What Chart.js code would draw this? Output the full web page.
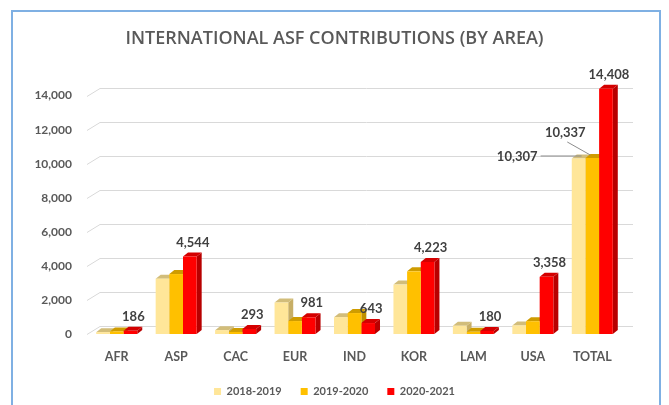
<!DOCTYPE html>
<html>
<head>
<meta charset="utf-8">
<script src="https://cdn.jsdelivr.net/npm/chart.js@4.4.1/dist/chart.umd.min.js"></script>
<style>
  html, body { margin: 0; padding: 0; background: #fff; overflow: hidden; }
  #wrap { position: relative; width: 669px; height: 405px; }
  #frame { position: absolute; left: 11px; top: 10px; width: 650px; height: 420px; border: 2px solid #7fb0e3; box-sizing: border-box; pointer-events: none; }
  canvas { position: absolute; left: 0; top: 0; }
</style>
</head>
<body>
<div id="wrap">
  <canvas id="chart" width="669" height="405"></canvas>
  <div id="frame"></div>
</div>
<script>
const categories = ["AFR", "ASP", "CAC", "EUR", "IND", "KOR", "LAM", "USA", "TOTAL"];
const fy2018 = [110, 3250, 227, 1850, 990, 2900, 480, 500, 10307];
const fy2019 = [150, 3520, 120, 760, 1230, 3680, 127, 750, 10337];
const fy2020 = [186, 4544, 293, 981, 643, 4223, 180, 3358, 14408];
const seriesNames = ["2018-2019", "2019-2020", "2020-2021"];
const yMax = 14000;
const yStep = 2000;

Chart.defaults.font.family = "Lato, 'Liberation Sans', sans-serif";

// front / top / side colours for the fake 3D bars
const faces = [
    { front: "#ffe699", top: "#d2bd7a", side: "#c7ae66" },
    { front: "#ffc000", top: "#cf9c00", side: "#bf8f00" },
    { front: "#ff0000", top: "#d40000", side: "#b80000" },
];
const DX = 5, DY = 4;       // bar depth
const WX = 13, WY = 8;      // back wall offset

const fmt = (v) => v.toLocaleString("en-US");

const wallPlugin = {
    id: "wall",
    beforeDatasetsDraw(chart) {
        const { ctx, chartArea, scales } = chart;
        ctx.save();
        ctx.strokeStyle = "#d9d9d9";
        ctx.lineWidth = 1;
        scales.y.ticks.forEach((t) => {
            const y = Math.round(scales.y.getPixelForValue(t.value)) + 0.5;
            ctx.beginPath();
            ctx.moveTo(chartArea.left, y);
            ctx.lineTo(chartArea.left + WX, y - WY);
            ctx.lineTo(chartArea.right + 11, y - WY);
            ctx.stroke();
        });
        // depth faces, fronts are drawn by Chart.js afterwards
        chart.data.datasets.forEach((ds, i) => {
            const meta = chart.getDatasetMeta(i);
            meta.data.forEach((bar) => {
                const x0 = bar.x - bar.width / 2, x1 = bar.x + bar.width / 2;
                ctx.fillStyle = faces[i].side;
                ctx.beginPath();
                ctx.moveTo(x1, bar.y);
                ctx.lineTo(x1 + DX, bar.y - DY);
                ctx.lineTo(x1 + DX, bar.base - DY);
                ctx.lineTo(x1, bar.base);
                ctx.closePath();
                ctx.fill();
                ctx.fillStyle = faces[i].top;
                ctx.beginPath();
                ctx.moveTo(x0, bar.y);
                ctx.lineTo(x0 + DX, bar.y - DY);
                ctx.lineTo(x1 + DX, bar.y - DY);
                ctx.lineTo(x1, bar.y);
                ctx.closePath();
                ctx.fill();
            });
        });
        ctx.restore();
    },
};

const labelPlugin = {
    id: "valueLabels",
    afterDatasetsDraw(chart) {
        const { ctx } = chart;
        ctx.save();
        ctx.font = "bold 13px Lato, 'Liberation Sans', sans-serif";
        ctx.fillStyle = "#404040";
        ctx.textAlign = "center";
        ctx.textBaseline = "middle";
        const red = chart.getDatasetMeta(2).data;
        red.forEach((bar, i) => {
            ctx.fillText(fmt(fy2020[i]), bar.x + 3, bar.y - 14);
        });
        // leader-line labels on TOTAL
        const last = categories.length - 1;
        const a = chart.getDatasetMeta(0).data[last];
        const b = chart.getDatasetMeta(1).data[last];
        ctx.strokeStyle = "#8c8c8c";
        ctx.lineWidth = 1;
        ctx.textAlign = "right";
        ctx.fillText(fmt(fy2018[last]), a.x - 41, a.y - 2);
        ctx.beginPath();
        ctx.moveTo(a.x - 38, a.y - 2.5);
        ctx.lineTo(a.x + 3, a.y - 2.5);
        ctx.stroke();
        ctx.textAlign = "center";
        ctx.fillText(fmt(fy2019[last]), b.x - 27, b.y - 25);
        ctx.beginPath();
        ctx.moveTo(b.x - 25, b.y - 16);
        ctx.lineTo(b.x - 2, b.y - 3);
        ctx.stroke();
        ctx.restore();
    },
};

new Chart(document.getElementById("chart"), {
    type: "bar",
    data: {
        labels: categories,
        datasets: [fy2018, fy2019, fy2020].map((values, i) => ({
            label: seriesNames[i],
            data: values,
            backgroundColor: faces[i].front,
            borderWidth: 0,
            categoryPercentage: 0.69,
            barPercentage: 1,
            clip: false,
        })),
    },
    options: {
        responsive: false,
        animation: false,
        devicePixelRatio: 1,
        layout: { padding: { left: 0, right: 0, top: 0, bottom: -2 } },
        plugins: {
            title: {
                display: true,
                text: "INTERNATIONAL ASF CONTRIBUTIONS (BY AREA)",
                color: "#595959",
                font: { family: "'Open Sans', Lato, sans-serif", size: 18, weight: "600" },
                padding: { top: 28, bottom: 46 },
            },
            legend: {
                position: "bottom",
                labels: {
                    color: "#595959",
                    font: { size: 11, weight: "bold" },
                    boxWidth: 7,
                    boxHeight: 7,
                    padding: 19,
                },
            },
            tooltip: { enabled: false },
        },
        scales: {
            x: {
                grid: { display: false },
                border: { display: false },
                ticks: { color: "#595959", font: { size: 12.5, weight: "bold" }, padding: 7 },
                afterFit: (scale) => { scale.height = 33; },
            },
            y: {
                min: 0,
                max: yMax,
                grid: { display: false, drawTicks: false },
                border: { display: false },
                ticks: {
                    stepSize: yStep,
                    color: "#595959",
                    font: { size: 12, weight: "bold" },
                    padding: 15,
                    callback: (v) => fmt(v),
                },
                afterFit: (scale) => { scale.width = 87; },
            },
            // empty axis that only reserves room on the right
            yRight: {
                position: "right",
                display: true,
                grid: { display: false, drawTicks: false },
                border: { display: false },
                ticks: { display: false },
                afterFit: (scale) => { scale.width = 47; },
            },
        },
    },
    plugins: [wallPlugin, labelPlugin],
});
</script>
</body>
</html>
